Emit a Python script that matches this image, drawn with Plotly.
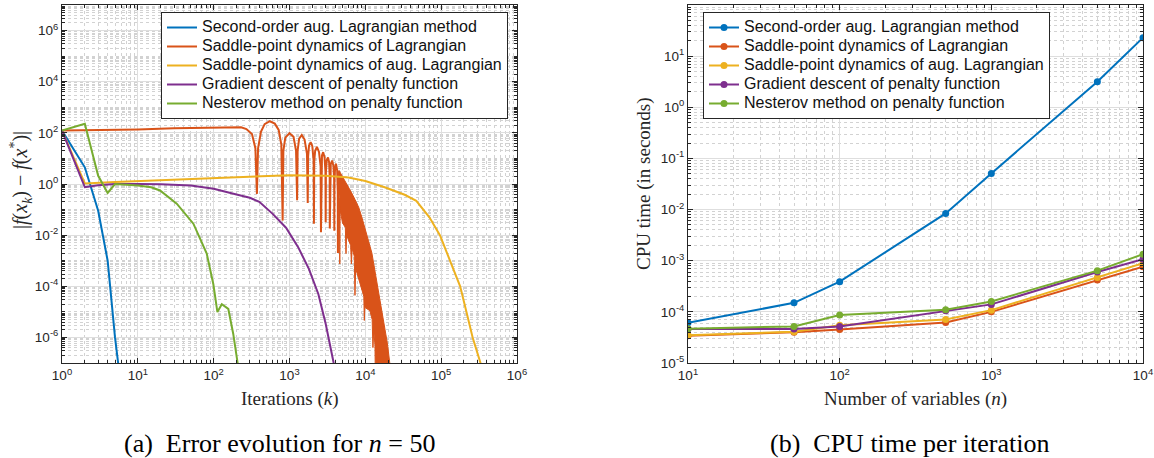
import plotly.graph_objects as go

W, H = 1154, 458
COLORS = ["#0072BD", "#D95319", "#EDB120", "#7E2F8E", "#77AC30"]
NAMES = ["Second-order aug. Lagrangian method",
         "Saddle-point dynamics of Lagrangian",
         "Saddle-point dynamics of aug. Lagrangian",
         "Gradient descent of penalty function",
         "Nesterov method on penalty function"]

# ---------------- Left panel: error vs iterations ----------------
k_second = [1, 2, 3, 4, 5, 5.5, 6]
err_second = [123, 4.5, 0.09, 1.0e-3, 1.0e-6, 1.0e-7, 2e-9]

k_saddle = [1, 3, 10, 30, 100, 180, 230, 270, 320, 355, 372,
            385, 420, 470, 550, 640, 720, 780, 812,
            830, 880, 1000, 1130, 1220, 1260,
            1280, 1340, 1450, 1580, 1700, 1740,
            1760, 1810, 1900, 2000, 2080, 2100,
            2120, 2180, 2300, 2450, 2570, 2600,
            2620, 2680, 2780, 2900, 2980, 3000,
            3020, 3100, 3220, 3330, 3390, 3400,
            3420, 3500, 3650, 3800, 3880, 3900,
            3920, 4000, 4100, 4250, 4330, 4350]
err_saddle = [123, 126, 135, 150, 165, 172, 165, 140, 90, 25, 0.41,
              25, 110, 220, 285, 230, 130, 35, 0.037,
              20, 65, 97, 70, 20, 0.23,
              20, 60, 82, 55, 15, 0.18,
              12, 32, 43, 30, 8, 0.028,
              8, 20, 28, 18, 5, 0.013,
              5, 13, 17.5, 11, 3, 0.032,
              3, 8.5, 11, 7, 2, 0.018,
              2, 6, 8.3, 5, 1.5, 0.015,
              1.5, 4.5, 6.2, 3.5, 0.5, 2e-3]

# dense oscillation band of the saddle-point (Lagrangian) curve
k_band_top = [4350, 4370, 4500, 5000, 5400, 6000, 6600, 7300, 8200, 9000,
              10000, 11000, 12200, 13200, 14200, 16000, 18100, 19500, 21000, 22500]
err_band_top = [2e-3, 3.0, 3.4, 2.0, 1.3, 0.8, 0.45, 0.25, 0.12, 0.05,
                0.018, 6e-3, 2e-3, 5e-4, 1.2e-4, 1.5e-5, 2.5e-6, 6e-7, 1e-7, 1e-8]
k_band_low = [4350, 4420, 4560, 4600, 4650, 5000, 5450, 5560, 5650, 6400, 6550,
              6700, 7150, 7300, 7450, 8500, 9550, 9700, 9850, 11500, 12300,
              12600, 12900, 13400, 13600]
err_band_low = [2e-3, 0.5, 0.3, 7.5e-4, 0.1, 0.03, 0.02, 1.9e-3, 0.01, 4e-3, 7.5e-4,
                3e-3, 1.5e-3, 4.4e-5, 5e-4, 1.3e-4, 4e-5, 4.6e-6, 1.5e-5, 1.1e-5, 5e-6,
                4e-7, 2e-6, 5e-7, 1e-8]

k_saddle_aug = [1, 2, 5, 10, 30, 100, 300, 1000, 3000, 6000, 10000, 18000, 33000,
                47000, 70000, 96600, 140000, 178000, 220000, 260000, 330000, 400000]
err_saddle_aug = [123, 1.05, 1.2, 1.3, 1.45, 1.65, 1.95, 2.2, 2.1, 1.8, 1.3, 0.75, 0.38,
                  0.22, 0.05, 0.0098, 6e-4, 1e-4, 7.7e-6, 1e-6, 1e-7, 5e-9]

k_gradient = [1, 2, 3, 5, 10, 20, 50, 100, 200, 300, 400, 600, 900, 1300, 1800,
              2400, 3000, 3500, 3800, 4200]
err_gradient = [123, 0.75, 0.9, 1.0, 1.0, 0.97, 0.87, 0.65, 0.39, 0.29, 0.2, 0.068,
                0.0195, 3.4e-3, 4.8e-4, 5e-5, 3.4e-6, 3.7e-7, 1.1e-7, 1e-8]

k_nesterov = [1, 2, 3, 4, 5, 7, 10, 15, 19.6, 32.6, 54, 81, 99, 112, 128, 156,
              181, 207, 230]
err_nesterov = [123, 225, 2.1, 0.45, 1.0, 0.97, 0.88, 0.75, 0.56, 0.17, 0.028,
                1.9e-3, 1.2e-4, 9.8e-6, 2e-5, 1.3e-5, 1.4e-6, 1e-7, 1e-9]

# ---------------- Right panel: CPU time vs n ----------------
n_vars = [10, 50, 100, 500, 1000, 5000, 10000]
cpu_second = [6.1e-5, 1.5e-4, 3.9e-4, 8.4e-3, 0.051, 3.16, 23]
cpu_saddle = [3.4e-5, 4.0e-5, 4.5e-5, 6.2e-5, 1.0e-4, 4.2e-4, 7.6e-4]
cpu_saddle_aug = [3.5e-5, 4.1e-5, 5.5e-5, 7.1e-5, 1.08e-4, 4.7e-4, 8.9e-4]
cpu_gradient = [4.6e-5, 4.6e-5, 5.2e-5, 1.05e-4, 1.4e-4, 6.0e-4, 1.07e-3]
cpu_nesterov = [4.7e-5, 5.2e-5, 8.7e-5, 1.1e-4, 1.6e-4, 6.4e-4, 1.34e-3]

LEFT_X_TICKS = [1, 10, 100, 1e3, 1e4, 1e5, 1e6]
LEFT_X_TEXT = ["10<sup>%d</sup>" % e for e in range(0, 7)]
LEFT_Y_TICKS = [10.0 ** e for e in range(-6, 7, 2)]
LEFT_Y_TEXT = ["10<sup>%d</sup>" % e for e in range(-6, 7, 2)]
RIGHT_X_TICKS = [10, 100, 1e3, 1e4]
RIGHT_X_TEXT = ["10<sup>%d</sup>" % e for e in range(1, 5)]
RIGHT_Y_TICKS = [10.0 ** e for e in range(-5, 3)]
RIGHT_Y_TEXT = ["10<sup>%d</sup>" % e for e in range(-5, 3)]


def minor_vals(e0, e1, skip_decades=()):
    vals = []
    for e in range(e0, e1):
        for m in range(1, 10):
            if m == 1 and e not in skip_decades:
                continue
            vals.append(m * 10.0 ** e)
    return vals


def lname(s):
    return '<span style="font-size:16px">%s</span>' % s


fig = go.Figure()
LW = 2

fig.add_trace(go.Scatter(x=k_second, y=err_second, mode="lines", name=lname(NAMES[0]),
                         line=dict(color=COLORS[0], width=LW), legend="legend"))
fig.add_trace(go.Scatter(x=k_saddle, y=err_saddle, mode="lines", name=lname(NAMES[1]),
                         line=dict(color=COLORS[1], width=LW), legend="legend",
                         legendgroup="sad"))
fig.add_trace(go.Scatter(x=k_band_top + k_band_low[::-1], y=err_band_top + err_band_low[::-1],
                         mode="lines", fill="toself", fillcolor=COLORS[1],
                         line=dict(color=COLORS[1], width=1), showlegend=False,
                         legendgroup="sad", hoverinfo="skip"))
fig.add_trace(go.Scatter(x=k_saddle_aug, y=err_saddle_aug, mode="lines", name=lname(NAMES[2]),
                         line=dict(color=COLORS[2], width=LW), legend="legend"))
fig.add_trace(go.Scatter(x=k_gradient, y=err_gradient, mode="lines", name=lname(NAMES[3]),
                         line=dict(color=COLORS[3], width=LW), legend="legend"))
fig.add_trace(go.Scatter(x=k_nesterov, y=err_nesterov, mode="lines", name=lname(NAMES[4]),
                         line=dict(color=COLORS[4], width=LW), legend="legend"))

for ys, c, nm in zip([cpu_second, cpu_saddle, cpu_saddle_aug, cpu_gradient, cpu_nesterov],
                     COLORS, NAMES):
    fig.add_trace(go.Scatter(x=n_vars, y=ys, mode="lines+markers", name=lname(nm),
                             line=dict(color=c, width=LW),
                             marker=dict(color=c, size=7),
                             xaxis="x2", yaxis="y2", legend="legend2"))

AX = "#262626"
TICKFONT = dict(family="Liberation Sans, Arial, sans-serif", size=13.5, color=AX)
GRID = "#dedede"
MINGRID = "#d2d2d2"


def axis(domain, rng, tickvals, ticktext, minor, anchor):
    return dict(type="log", domain=domain, range=rng, tickmode="array",
                tickvals=tickvals, ticktext=ticktext, ticks="inside", ticklen=5,
                tickcolor=AX, showline=True, linecolor=AX, linewidth=1, mirror="ticks",
                showgrid=True, gridcolor=GRID, gridwidth=1, zeroline=False,
                tickfont=TICKFONT, anchor=anchor, automargin=False,
                minor=dict(tickmode="array", tickvals=minor, ticks="inside", ticklen=3,
                           tickcolor=AX, showgrid=True, gridcolor=MINGRID,
                           griddash="dot", gridwidth=1))


ydom = [1 - 363 / H, 1 - 5 / H]
LEGFONT = dict(family="Liberation Sans, Arial, sans-serif", size=12, color="#111")
fig.update_layout(
    width=W, height=H, margin=dict(l=0, r=0, t=0, b=0, autoexpand=False),
    paper_bgcolor="white", plot_bgcolor="white",
    xaxis=axis([62 / W, 517 / W], [0, 6], LEFT_X_TICKS, LEFT_X_TEXT, minor_vals(0, 6), "y"),
    yaxis=axis(ydom, [-7, 7], LEFT_Y_TICKS, LEFT_Y_TEXT,
               minor_vals(-7, 7, skip_decades=(-7, -5, -3, -1, 1, 3, 5)), "x"),
    xaxis2=axis([688 / W, 1143 / W], [1, 4], RIGHT_X_TICKS, RIGHT_X_TEXT, minor_vals(1, 4), "y2"),
    yaxis2=axis(ydom, [-5, 2], RIGHT_Y_TICKS, RIGHT_Y_TEXT, minor_vals(-5, 2), "x2"),
    legend=dict(x=508 / W, y=1 - 12 / H, xanchor="right", yanchor="top",
                bgcolor="white", bordercolor=AX, borderwidth=1,
                font=LEGFONT, tracegroupgap=0),
    legend2=dict(x=1050 / W, y=1 - 12 / H, xanchor="right", yanchor="top",
                 bgcolor="white", bordercolor=AX, borderwidth=1,
                 font=LEGFONT, tracegroupgap=0),
    showlegend=True,
)

SERIF = "Liberation Serif, Times New Roman, serif"
ann = [
    dict(text="Iterations (<i>k</i>)", x=289.5 / W, y=1 - 399 / H, size=19, angle=0),
    dict(text="|<i>f</i>(<i>x</i><sub><i>k</i></sub>) − <i>f</i>(<i>x</i><sup>*</sup>)|",
         x=21 / W, y=1 - 180 / H, size=20, angle=-90),
    dict(text="Number of variables (<i>n</i>)", x=915 / W, y=1 - 399 / H, size=19, angle=0),
    dict(text="CPU time (in seconds)", x=644 / W, y=1 - 184 / H, size=19, angle=-90),
    dict(text="(a)  Error evolution for <i>n</i> = 50", x=279 / W, y=1 - 443 / H, size=26, angle=0),
    dict(text="(b)  CPU time per iteration", x=909 / W, y=1 - 443 / H, size=26, angle=0),
]
for a in ann:
    fig.add_annotation(text=a["text"], x=a["x"], y=a["y"], xref="paper", yref="paper",
                       xanchor="center", yanchor="middle", showarrow=False,
                       textangle=a["angle"],
                       font=dict(family=SERIF, size=a["size"], color="#000" if a["size"] > 20 else AX))

fig.write_html("out.html", config={"displayModeBar": False},
               post_script="document.body.style.margin='0px';document.body.style.overflow='hidden';")
